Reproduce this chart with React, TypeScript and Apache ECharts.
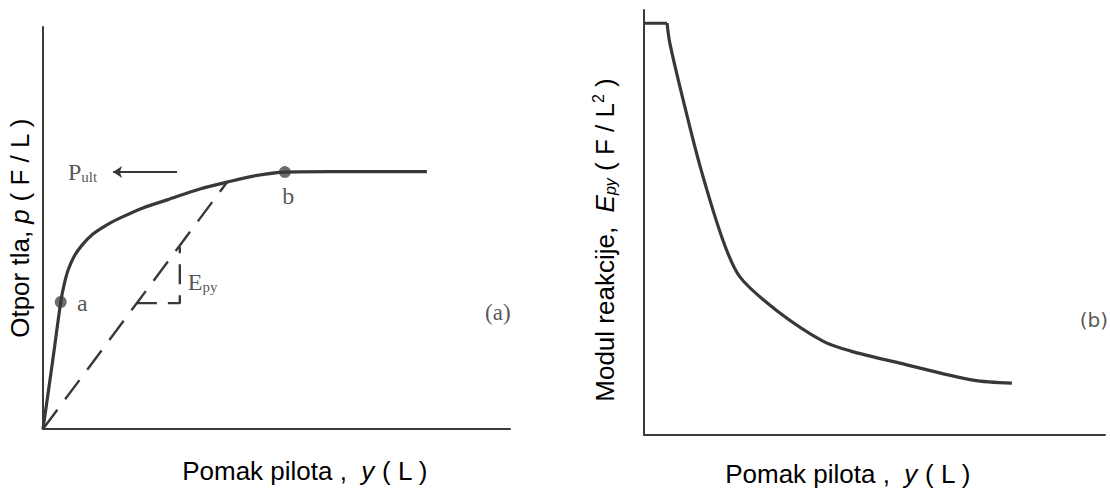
import React, { useEffect, useRef } from "react";
import * as echarts from "echarts";

// ---- Panel (a): p-y curve ----
const pyDisp = [0, 2.1, 3.8, 4.5, 5.4, 6.6, 8.4, 10.7, 13.7, 16.9, 21.4, 26.6, 33.6, 39.4, 45.0, 51.8, 61.5, 82.2];
const pyResist = [0, 17.2, 31.6, 35.8, 39.6, 42.8, 45.8, 48.5, 50.8, 52.7, 55.0, 57.0, 59.7, 61.4, 62.9, 63.9, 64.0, 64.0];
const pointA = [3.8, 31.6];
const pointB = [51.8, 63.9];
const secantDisp = [0, 39.4];
const secantResist = [0, 61.4];
const slopeDisp = [20.1, 29.3, 29.3];
const slopeResist = [31.3, 31.3, 45.3];
const pUltArrowDisp = [28.7, 15.0];
const pUlt = 63.9;

// ---- Panel (b): Epy curve ----
const plateauDisp = [0, 5.0];
const plateauModulus = [96.9, 96.9];
const eDisp = [5.0, 5.6, 8.5, 12.2, 17.1, 20.8, 28.9, 38.8, 44.7, 55.5, 71.4, 79.8];
const eModulus = [96.9, 92.2, 78.8, 63.1, 45.9, 37.2, 29.2, 22.1, 19.8, 16.9, 12.9, 12.2];

const zip = (xs: number[], ys: number[]) => xs.map((x, i) => [x, ys[i]]);

const INK = "#383838";
const SANS = "'Liberation Sans', Arial, sans-serif";
const SERIF = "'Liberation Serif', 'Times New Roman', serif";

export default function App() {
  const ref = useRef<HTMLDivElement>(null);
  useEffect(() => {
    if (!ref.current) return;
    const chart = echarts.init(ref.current, undefined, { renderer: "svg" });
    const axisCommon = {
      type: "value" as const,
      min: 0,
      max: 100,
      axisLine: { show: true, lineStyle: { color: "#3a3a3a", width: 2 } },
      axisTick: { show: false },
      axisLabel: { show: false },
      splitLine: { show: false },
    };
    const serifLabel = (text: string, align: string, fontSize = 24) => ({
      show: true,
      position: "inside",
      formatter: text,
      align,
      verticalAlign: "middle",
      color: "#2a2a2a",
      fontFamily: SERIF,
      fontSize,
      rich: {
        P: { fontFamily: SERIF, fontSize: 24, color: "#2a2a2a" },
        s: { fontFamily: SERIF, fontSize: 15, color: "#2a2a2a", padding: [10, 0, 0, 0] },
      },
    });
    const sansRich = {
      n: { fontFamily: SANS, fontSize: 26, color: "#111" },
      i: { fontFamily: SANS, fontSize: 26, color: "#111", fontStyle: "italic" },
      sub: { fontFamily: SANS, fontSize: 16, color: "#111", fontStyle: "italic", padding: [11, 0, 0, 0] },
      sup: { fontFamily: SANS, fontSize: 16, color: "#111", padding: [0, 0, 13, 0] },
    };
    const axisTitle = (x: number, y: number, text: string, rotation = 0) => ({
      type: "text",
      x,
      y,
      rotation,
      style: {
        text,
        rich: sansRich,
        align: "center",
        verticalAlign: "middle",
        textAlign: "center",
        textVerticalAlign: "middle",
      },
    });
    chart.setOption({
      animation: false,
      backgroundColor: "#ffffff",
      grid: [
        { left: 43, top: 27, width: 467, height: 402 },
        { left: 644, top: 10, width: 461, height: 425 },
      ],
      xAxis: [
        { ...axisCommon, gridIndex: 0 },
        { ...axisCommon, gridIndex: 1 },
      ],
      yAxis: [
        { ...axisCommon, gridIndex: 0 },
        { ...axisCommon, gridIndex: 1 },
      ],
      series: [
        {
          type: "line",
          xAxisIndex: 0,
          yAxisIndex: 0,
          data: zip(pyDisp, pyResist),
          smooth: 0.3,
          symbol: "none",
          lineStyle: { color: INK, width: 3.2 },
          silent: true,
        },
        {
          type: "line",
          xAxisIndex: 0,
          yAxisIndex: 0,
          data: zip(secantDisp, secantResist),
          symbol: "none",
          lineStyle: { color: INK, width: 2.4, type: [24, 13] },
          silent: true,
        },
        {
          type: "line",
          xAxisIndex: 0,
          yAxisIndex: 0,
          data: zip(slopeDisp, slopeResist),
          symbol: "none",
          lineStyle: { color: INK, width: 2.4, type: [20, 11] },
          silent: true,
        },
        {
          type: "scatter",
          xAxisIndex: 0,
          yAxisIndex: 0,
          data: [pointA, pointB],
          symbolSize: 12,
          itemStyle: { color: "#4a4a4a" },
          silent: true,
        },
        {
          type: "lines",
          coordinateSystem: "cartesian2d",
          xAxisIndex: 0,
          yAxisIndex: 0,
          data: [{ coords: [[pUltArrowDisp[0], pUlt], [pUltArrowDisp[1], pUlt]] }],
          symbol: ["none", "arrow"],
          symbolSize: 9,
          lineStyle: { color: INK, width: 2.2, opacity: 1 },
          silent: true,
        },
        {
          type: "scatter",
          xAxisIndex: 0,
          yAxisIndex: 0,
          symbolSize: 0,
          silent: true,
          data: [
            { value: [5.35, pUlt], label: serifLabel("{P|P}{s|ult}", "left") },
            { value: [7.3, 31.3], label: serifLabel("a", "left") },
            { value: [52.5, 57.9], label: serifLabel("b", "center") },
            { value: [31.0, 36.6], label: serifLabel("{P|E}{s|py}", "left") },
            { value: [97.4, 28.9], label: serifLabel("(a)", "center", 23) },
          ],
        },
        {
          type: "line",
          xAxisIndex: 1,
          yAxisIndex: 1,
          data: zip(plateauDisp, plateauModulus),
          symbol: "none",
          lineStyle: { color: INK, width: 3 },
          silent: true,
        },
        {
          type: "line",
          xAxisIndex: 1,
          yAxisIndex: 1,
          data: zip(eDisp, eModulus),
          smooth: 0.3,
          symbol: "none",
          lineStyle: { color: INK, width: 3.2 },
          silent: true,
        },
        {
          type: "scatter",
          xAxisIndex: 1,
          yAxisIndex: 1,
          symbolSize: 0,
          silent: true,
          data: [
            {
              value: [97.6, 27.1],
              label: {
                show: true,
                position: "inside",
                formatter: "(b)",
                color: "#2a2a2a",
                fontFamily: "'DejaVu Sans', sans-serif",
                fontSize: 20,
              },
            },
          ],
        },
      ],
      graphic: [
        axisTitle(20, 228, "{n|Otpor tla, }{i|p}{n| ( F / L )}", Math.PI / 2),
        axisTitle(605, 240, "{n|Modul reakcije,  }{i|E}{sub|py}{n| ( F / L}{sup|2}{n| )}", Math.PI / 2),
        axisTitle(305, 471, "{n|Pomak pilota ,  }{i|y}{n| ( L )}"),
        axisTitle(848, 474, "{n|Pomak pilota ,  }{i|y}{n| ( L )}"),
      ],
    });
    return () => chart.dispose();
  }, []);
  return (
    <div
      ref={ref}
      style={{ position: "fixed", left: 0, top: 0, width: 1110, height: 488, background: "#fff" }}
    />
  );
}
